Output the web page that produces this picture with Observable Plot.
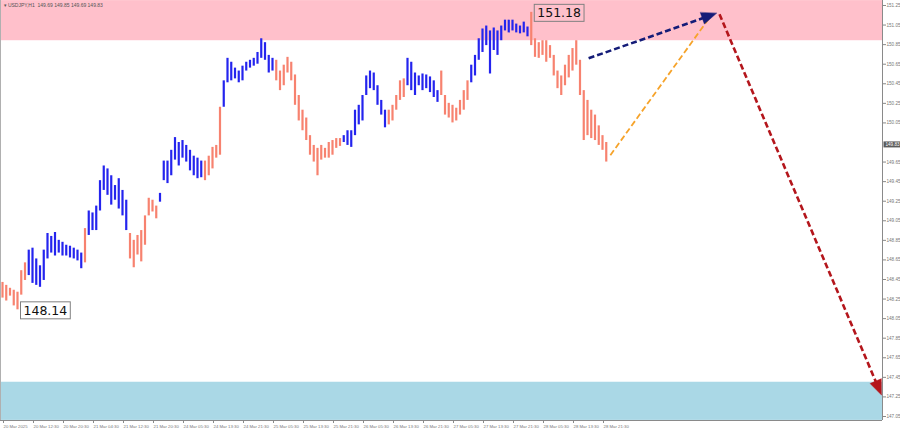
<!DOCTYPE html>
<html><head><meta charset="utf-8">
<script src="https://cdn.jsdelivr.net/npm/d3@7"></script>
<script src="https://cdn.jsdelivr.net/npm/@observablehq/plot@0.6"></script>
<style>html,body{margin:0;padding:0;background:#fff;} svg{display:block}</style>
</head><body><div id="chart"></div>
<script>
// ---- data (hourly bars) ----
const barHigh = [
148.42,148.39,148.36,148.34,148.32,148.54,148.62,148.75,148.77,148.66,
148.59,148.75,148.92,148.89,148.93,148.85,148.83,148.80,148.79,148.77,
148.75,148.72,148.97,149.15,149.13,149.20,149.46,149.61,149.58,149.51,
149.41,149.48,149.36,149.26,148.92,148.85,148.90,148.95,149.10,149.28,
149.26,149.20,149.33,149.66,149.66,149.77,149.90,149.85,149.87,149.82,
149.77,149.71,149.69,149.66,149.66,149.71,149.80,149.82,150.21,150.48,
150.71,150.67,150.61,150.58,150.63,150.67,150.69,150.71,150.77,150.91,
150.87,150.74,150.71,150.69,150.58,150.64,150.72,150.67,150.54,150.33,
150.18,150.10,149.92,149.82,149.79,149.82,149.79,149.85,149.87,149.89,
149.89,149.92,149.97,149.97,150.18,150.23,150.33,150.53,150.58,150.56,
150.43,150.28,150.18,150.18,150.23,150.33,150.48,150.50,150.71,150.67,
150.56,150.53,150.55,150.54,150.52,150.48,150.38,150.58,150.33,150.25,
150.23,150.20,150.28,150.38,150.48,150.64,150.74,150.91,151.01,151.04,
150.99,151.02,150.99,151.04,151.10,151.10,151.10,151.06,151.04,151.08,
151.03,151.18,150.91,150.87,150.89,150.89,150.84,150.74,150.58,150.53,
150.64,150.74,150.81,150.89,150.69,150.38,150.28,150.18,150.13,150.02,
149.92,149.85];
const barLow = [
148.26,148.23,148.28,148.18,148.14,148.29,148.44,148.49,148.41,148.39,
148.37,148.44,148.66,148.72,148.69,148.72,148.69,148.69,148.67,148.66,
148.64,148.56,148.62,148.90,148.95,148.95,149.15,149.36,149.31,149.21,
149.26,149.17,149.10,148.95,148.66,148.57,148.70,148.63,148.80,149.10,
149.14,149.07,149.24,149.46,149.43,149.51,149.67,149.61,149.69,149.65,
149.56,149.51,149.48,149.49,149.46,149.51,149.58,149.69,149.72,150.21,
150.46,150.48,150.50,150.46,150.48,150.58,150.61,150.63,150.65,150.71,
150.69,150.56,150.58,150.48,150.38,150.43,150.56,150.48,150.23,150.07,
149.97,149.87,149.72,149.65,149.51,149.67,149.69,149.69,149.72,149.79,
149.81,149.85,149.82,149.80,149.92,150.03,150.07,150.33,150.40,150.38,
150.23,150.13,150.00,150.03,150.07,150.18,150.28,150.31,150.43,150.38,
150.33,150.43,150.38,150.40,150.36,150.31,150.26,150.33,150.13,150.10,
150.05,150.07,150.13,150.18,150.28,150.46,150.53,150.69,150.77,150.84,
150.55,150.79,150.74,150.89,150.99,150.97,150.99,150.97,150.96,150.97,
150.93,150.84,150.72,150.71,150.74,150.67,150.71,150.53,150.40,150.33,
150.43,150.51,150.58,150.64,150.33,149.87,149.92,149.89,149.87,149.82,
149.77,149.65];
// wave segments: first bar index of each segment and its direction
const waveStarts = [0,7,22,23,34,42,54,59,73,91,103,108,117,125,141];
const waveDirs = ["down","up","down","up","down","up","down","up","down","up","down","up","down","up","down"];
const waveColors = {up:"#2424ee", down:"#f7826f"};

const xTickBars = [0,8,16,24,32,40,48,56,64,72,80,88,96,104,112,120,128,136,144,152,160];
const xTickLabels = ["20 Mar 2025","20 Mar 12:30","20 Mar 20:30","21 Mar 04:30","21 Mar 12:30","21 Mar 20:30",
"24 Mar 05:30","24 Mar 13:30","24 Mar 21:30","25 Mar 05:30","25 Mar 13:30","25 Mar 21:30","26 Mar 05:30",
"26 Mar 13:30","26 Mar 21:30","27 Mar 05:30","27 Mar 13:30","27 Mar 21:30","28 Mar 05:30","28 Mar 13:30","28 Mar 21:30"];
const yTicks = [147.05,147.25,147.45,147.65,147.85,148.05,148.25,148.45,148.65,148.85,149.05,149.25,149.45,149.65,149.85,150.05,150.25,150.45,150.65,150.85,151.05,151.25];

const resistanceZone = [150.89, 151.30];
const supportZone = [147.01, 147.40];
const extremeBars = [141, 4];
const extremePrices = [151.18, 148.14];
const lastPrice = 149.83;
const titleText = "\u25BE USDJPY,H1  149.69 149.85 149.69 149.83";

// forecast arrows (bar index, price)
const arrowX1 = [156.3, 162.1, 191.2];
const arrowY1 = [150.71, 149.72, 151.16];
const arrowX2 = [190.4, 188.8, 234.4];
const arrowY2 = [151.17, 151.14, 147.27];
const arrowColors = ["#141c78", "#f6a32a", "#b4161c"];
const arrowWidths = [2.6, 1.8, 2.6];
const arrowHeads = [true, false, true];

const xDomain = [-0.533, 234.667];
const yDomain = [147.009, 151.301];

// ---- build tables ----
const bars = barHigh.map((h, i) => {
  let s = 0; for (let k = 0; k < waveStarts.length; k++) if (i >= waveStarts[k]) s = k;
  return {i, hi: h, lo: barLow[i], c: waveColors[waveDirs[s]]};
});
const extremes = extremeBars.map((b, k) => ({bar: b, price: extremePrices[k]}));
// the current-price box hides the axis label that sits under it
const shownYTicks = yTicks.filter(t => Math.abs(t - lastPrice) > 0.05);

const W = 900, H = 432, mR = 18, mB = 12;
const sx = d3.scaleLinear(xDomain, [0, W - mR]);
const sy = d3.scaleLinear(yDomain, [H - mB, 0]);
const headLen = 15, headHalf = 6;
const links = [], heads = [];
arrowX1.forEach((x1, k) => {
  const p1 = [sx(x1), sy(arrowY1[k])], p2 = [sx(arrowX2[k]), sy(arrowY2[k])];
  const dx = p2[0]-p1[0], dy = p2[1]-p1[1], L = Math.hypot(dx, dy), ux = dx/L, uy = dy/L;
  const endPx = arrowHeads[k] ? [p2[0]-ux*headLen*0.7, p2[1]-uy*headLen*0.7] : p2;
  links.push({x1, y1: arrowY1[k], x2: sx.invert(endPx[0]), y2: sy.invert(endPx[1]), c: arrowColors[k], w: arrowWidths[k]});
  if (arrowHeads[k]) {
    const b = [p2[0]-ux*headLen, p2[1]-uy*headLen];
    const pts = [p2, [b[0]-uy*headHalf, b[1]+ux*headHalf], [b[0]+uy*headHalf, b[1]-ux*headHalf]];
    pts.forEach(p => heads.push({id: k, x: sx.invert(p[0]), y: sy.invert(p[1]), c: arrowColors[k]}));
  }
});

const plot = Plot.plot({
  width: W, height: H,
  marginLeft: 0, marginRight: mR, marginTop: 0, marginBottom: mB,
  style: {fontFamily: "Liberation Sans, sans-serif", background: "#fff"},
  x: {domain: xDomain, axis: null},
  y: {domain: yDomain, axis: null},
  color: {type: "identity"},
  marks: [
    Plot.rect([resistanceZone], {x1: () => xDomain[0], x2: () => xDomain[1], y1: d => d[0], y2: d => d[1], fill: "#ffc0cb"}),
    Plot.rect([supportZone], {x1: () => xDomain[0], x2: () => xDomain[1], y1: d => d[0], y2: d => d[1], fill: "#aad8e6"}),
    Plot.ruleX(bars, {x: "i", y1: "lo", y2: "hi", stroke: "c", strokeWidth: 2.2}),
    Plot.link(links, {x1: "x1", y1: "y1", x2: "x2", y2: "y2", stroke: "c", strokeWidth: "w", strokeDasharray: "6,3"}),
    Plot.line(heads, {x: "x", y: "y", z: "id", fill: "c", stroke: "c", strokeWidth: 0.5, curve: "linear-closed"}),
    Plot.ruleX([xDomain[1]], {stroke: "#8a8a8a", strokeWidth: 1}),
    Plot.ruleX([xDomain[0]], {stroke: "#b0b0b0", strokeWidth: 1}),
    Plot.ruleY([yDomain[0]], {stroke: "#8a8a8a", strokeWidth: 1}),
    Plot.axisY(shownYTicks, {anchor: "right", tickSize: 3, tickPadding: 1, tickFormat: d => d.toFixed(2), fontSize: 4.6, fill: "#777", stroke: "#888"}),
    Plot.axisX(xTickBars, {anchor: "bottom", tickSize: 3, tickPadding: 1, textAnchor: "start", dx: 1,
      tickFormat: d => xTickLabels[xTickBars.indexOf(d)], fontSize: 4.3, fill: "#777", stroke: "#888"}),
    Plot.text(extremes, {x: "bar", y: "price", text: d => d.price.toFixed(2), textAnchor: "start", dx: 6, dy: 1,
      fontSize: 12.5, fontFamily: "DejaVu Sans", fill: "#111"}),
    Plot.text([lastPrice], {x: () => xDomain[1], y: d => d, text: d => d.toFixed(2), textAnchor: "start", dx: 3,
      fontSize: 4.6, fill: "#fff"}),
    Plot.text([titleText], {frameAnchor: "top-left", dx: 3, dy: 3, fontSize: 5, fill: "#555", lineAnchor: "top"})
  ]
});
document.getElementById("chart").append(plot);

// boxes around the price labels
const ns = "http://www.w3.org/2000/svg";
plot.querySelectorAll("text").forEach(t => {
  const s = t.textContent;
  const isExt = extremePrices.map(p => p.toFixed(2)).includes(s);
  const isLast = s === lastPrice.toFixed(2);
  if (!isExt && !isLast) return;
  const bb = t.getBBox();
  const r = document.createElementNS(ns, "rect");
  if (isLast) {
    r.setAttribute("x", bb.x - 2); r.setAttribute("y", bb.y - 0.5);
    r.setAttribute("width", bb.width + 4); r.setAttribute("height", bb.height + 1);
    r.setAttribute("fill", "#5c5c5c");
  } else {
    r.setAttribute("x", bb.x - 3); r.setAttribute("y", bb.y - 1);
    r.setAttribute("width", bb.width + 6); r.setAttribute("height", bb.height + 2);
    r.setAttribute("fill", "none"); r.setAttribute("stroke", "#808080"); r.setAttribute("stroke-width", "1");
  }
  if (t.getAttribute("transform")) r.setAttribute("transform", t.getAttribute("transform"));
  t.parentNode.insertBefore(r, t);
});
</script>
</body></html>
